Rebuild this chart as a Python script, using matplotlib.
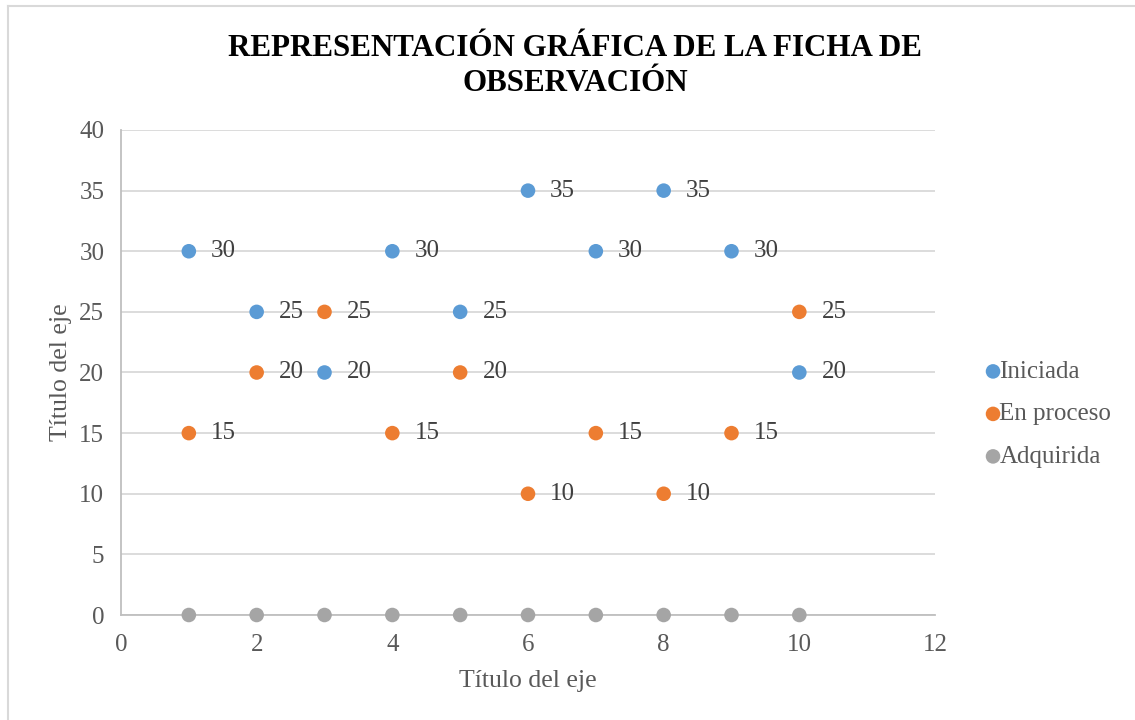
import numpy as np
import matplotlib.pyplot as plt
from matplotlib.lines import Line2D

plt.rcParams['font.family'] = ['Liberation Serif', 'DejaVu Serif']

# chart data
x_vals = [1, 2, 3, 4, 5, 6, 7, 8, 9, 10]
iniciada = [30, 25, 20, 30, 25, 35, 30, 35, 30, 20]
en_proceso = [15, 20, 25, 15, 20, 10, 15, 10, 15, 25]
adquirida = [0, 0, 0, 0, 0, 0, 0, 0, 0, 0]

series_names = ["Iniciada", "En proceso", "Adquirida"]
colors = ["#5B9BD5", "#ED7D31", "#A5A5A5"]
txt_col = "#595959"

fig = plt.figure(figsize=(11.35, 7.2), dpi=100)
ax = fig.add_axes([121/1135, 105/720, (935-121)/1135, (615-130)/720])

# outer frame (only top and left edges visible)
fig.add_artist(Line2D([8/1135, 1.0], [1-6/720, 1-6/720], transform=fig.transFigure, color="#D9D9D9", lw=1.5))
fig.add_artist(Line2D([8/1135, 8/1135], [0, 1-6/720], transform=fig.transFigure, color="#D9D9D9", lw=1.5))

all_series = [iniciada, en_proceso, adquirida]
for name, vals, c in zip(series_names, all_series, colors):
    ax.scatter(x_vals, vals, s=110, color=c, label=name, zorder=3, edgecolors='none', clip_on=False)

# data labels, shown for the first two series
for vals in [iniciada, en_proceso]:
    for xv, yv in zip(x_vals, vals):
        ax.annotate(str(yv), (xv, yv), xytext=(16, 0), textcoords='offset points',
                    va='center', ha='left', fontsize=18, color="#404040")

ax.set_xlim(0, 12)
ax.set_ylim(0, 40)
ax.set_xticks(np.arange(0, 13, 2))
ax.set_yticks(np.arange(0, 41, 5))
ax.grid(axis='y', color="#D9D9D9", lw=1.3)
ax.set_axisbelow(True)
for s in ['top', 'right']:
    ax.spines[s].set_visible(False)
ax.spines['left'].set_color("#BFBFBF")
ax.spines['bottom'].set_color("#BFBFBF")
ax.spines['left'].set_linewidth(1.3)
ax.spines['bottom'].set_linewidth(1.3)
ax.tick_params(length=0, labelsize=18, labelcolor=txt_col)
ax.tick_params(axis='x', pad=14)
ax.tick_params(axis='y', pad=12)

ax.set_xlabel("Título del eje", fontsize=18.5, color=txt_col, labelpad=10)
ax.set_ylabel("Título del eje", fontsize=18.5, color=txt_col, labelpad=5)

fig.text(575/1135, 1-66/720, "REPRESENTACIÓN GRÁFICA DE LA FICHA DE\nOBSERVACIÓN",
         ha='center', va='center', fontsize=22.3, fontweight='bold', color='black', linespacing=1.3)

leg = ax.legend(loc='center left', bbox_to_anchor=(1.059, 0.414), frameon=False,
                fontsize=18, labelcolor=txt_col, handletextpad=-0.15, handlelength=0.8,
                labelspacing=0.8, markerscale=1.0, borderpad=0, borderaxespad=0)

fig.savefig("out.png", dpi=100)
